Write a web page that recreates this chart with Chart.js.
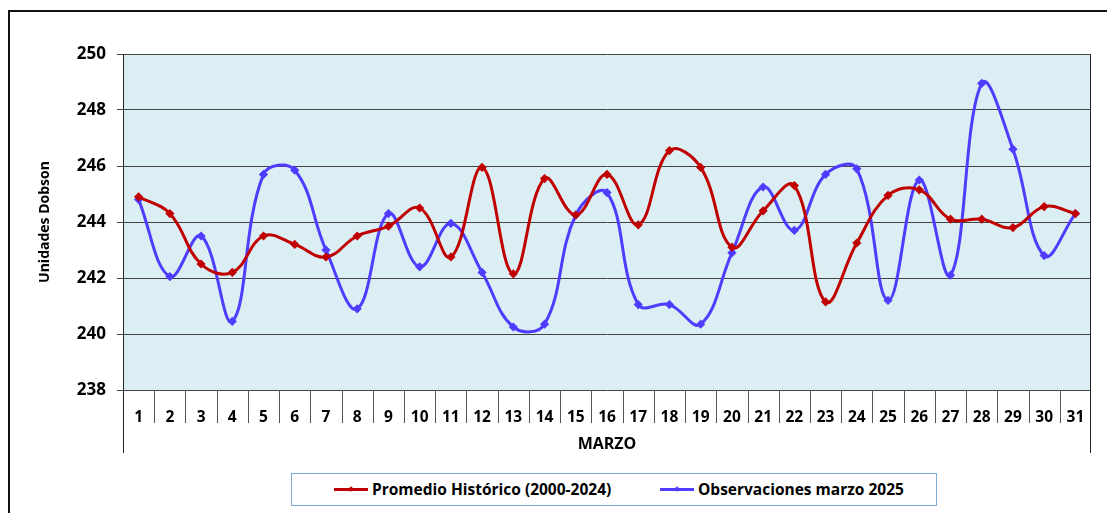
<!DOCTYPE html>
<html>
<head>
<meta charset="utf-8">
<script src="https://cdn.jsdelivr.net/npm/chart.js@4.4.1/dist/chart.umd.min.js"></script>
<style>
  html, body { margin: 0; padding: 0; background: #fff; overflow: hidden; }
  #wrap { position: relative; width: 1107px; height: 513px; }
  #frame { position: absolute; left: 8px; top: 10px; width: 1200px; height: 600px; border: 2px solid #111; box-sizing: border-box; }
  #box { position: absolute; left: 0; top: 0; width: 1107px; height: 513px; }
  #legend { position: absolute; left: 291px; top: 473px; width: 646px; height: 33px; border: 1px solid #7eaad8; background: #fff; box-sizing: border-box;
            font: bold 15.5px "Open Sans", sans-serif; color: #000; }
  .item { position: absolute; top: 0; height: 31px; line-height: 31px; white-space: nowrap; }
  .sym { display: inline-block; position: relative; width: 34px; height: 3px; vertical-align: middle; margin-right: 4px; top: -1px; }
  .sym i { position: absolute; left: 15px; top: -1px; width: 4px; height: 4px; transform: rotate(45deg); }
</style>
</head>
<body>
<div id="wrap">
  <div id="frame"></div>
  <div id="box"><canvas id="ozono"></canvas></div>
  <div id="legend">
    <div class="item" style="left:42px"><span class="sym" style="background:#c00000"><i style="background:#c00000"></i></span>Promedio Histórico (2000-2024)</div>
    <div class="item" style="left:368px"><span class="sym" style="background:#4f3cff"><i style="background:#4f3cff"></i></span>Observaciones marzo 2025</div>
  </div>
</div>
<script>
// dias de marzo
const dias = ['1','2','3','4','5','6','7','8','9','10','11','12','13','14','15','16','17','18','19','20','21','22','23','24','25','26','27','28','29','30','31'];

// Promedio historico 2000-2024 (UD)
const promedio = [244.9, 244.3, 242.5, 242.2, 243.5, 243.2, 242.75, 243.5, 243.85, 244.5,
  242.75, 245.95, 242.15, 245.55, 244.25, 245.7, 243.9, 246.55, 245.95, 243.1,
  244.4, 245.3, 241.15, 243.25, 244.95, 245.15, 244.1, 244.1, 243.8, 244.55, 244.3];

// Observaciones marzo 2025 (UD)
const observado = [244.8, 242.05, 243.5, 240.45, 245.7, 245.85, 243.0, 240.9, 244.3, 242.4,
  243.95, 242.2, 240.25, 240.35, 244.25, 245.05, 241.05, 241.05, 240.35, 242.9,
  245.25, 243.7, 245.7, 245.9, 241.2, 245.5, 242.1, 248.95, 246.6, 242.8, 244.3];

const yMin = 238;
const yMax = 250;
const yStep = 2;

const font = 'Open Sans';

// plot background + category separators (excel style)
const plotFrame = {
  id: 'plotFrame',
  beforeDraw(chart) {
    const { ctx, chartArea: a } = chart;
    ctx.save();
    ctx.fillStyle = '#daeef3';
    ctx.fillRect(a.left, a.top, a.width, a.height);
    ctx.restore();
  },
  afterDraw(chart) {
    const { ctx, chartArea: a, scales: { x } } = chart;
    ctx.save();
    ctx.strokeStyle = '#555555';
    ctx.lineWidth = 1;
    ctx.beginPath();
    for (let i = 1; i < dias.length; i++) {
      const px = Math.round((x.getPixelForValue(i - 1) + x.getPixelForValue(i)) / 2) + 0.5;
      ctx.moveTo(px, a.bottom);
      ctx.lineTo(px, a.bottom + 33);
    }
    ctx.stroke();
    ctx.strokeStyle = '#222222';
    ctx.beginPath();
    ctx.moveTo(Math.round(a.left) + 0.5, a.bottom);
    ctx.lineTo(Math.round(a.left) + 0.5, a.bottom + 63);
    ctx.moveTo(Math.round(a.right) - 0.5, a.top);
    ctx.lineTo(Math.round(a.right) - 0.5, a.bottom + 63);
    ctx.stroke();
    ctx.restore();
  }
};

new Chart(document.getElementById('ozono'), {
  type: 'line',
  data: {
    labels: dias,
    datasets: [{
      label: 'Promedio Histórico (2000-2024)',
      data: promedio,
      borderColor: '#c00000',
      backgroundColor: '#c00000',
      borderWidth: 3,
      tension: 0.4,
      pointStyle: 'rectRot',
      pointRadius: 2.5,
      fill: false
    },
    {
      label: 'Observaciones marzo 2025',
      data: observado,
      borderColor: '#4f3cff',
      backgroundColor: '#4f3cff',
      borderWidth: 3,
      tension: 0.4,
      pointStyle: 'rectRot',
      pointRadius: 2.5,
      fill: false
    }]
  },
  options: {
    responsive: true,
    maintainAspectRatio: false,
    animation: false,
    layout: { padding: { left: 0, top: 54, right: 16, bottom: 60 } },
    scales: {
      x: {
        offset: true,
        afterFit(scale) { scale.height = 63; },
        grid: { display: false, offset: true },
        border: { display: false },
        ticks: {
          color: '#000',
          padding: 10,
          maxRotation: 0,
          autoSkip: false,
          font: { family: font, size: 15.5, weight: 'bold' }
        },
        title: {
          display: true,
          text: 'MARZO',
          color: '#000',
          padding: { top: 0, bottom: -1 },
          font: { family: font, size: 16, weight: 'bold' }
        }
      },
      y: {
        min: yMin,
        max: yMax,
        afterFit(scale) { scale.width = 123; },
        grid: { color: '#444444', lineWidth: 1, tickLength: 6, drawTicks: true },
        border: { display: true, color: '#222222', width: 1 },
        ticks: {
          stepSize: yStep,
          color: '#000',
          padding: 11,
          font: { family: font, size: 17, weight: 'bold' }
        },
        title: {
          display: true,
          text: 'Unidades Dobson',
          color: '#000',
          padding: { top: 37, bottom: 0 },
          font: { family: font, size: 14, weight: 'bold' }
        }
      }
    },
    plugins: {
      legend: { display: false },
      tooltip: { enabled: false }
    }
  },
  plugins: [plotFrame]
});
</script>
</body>
</html>
